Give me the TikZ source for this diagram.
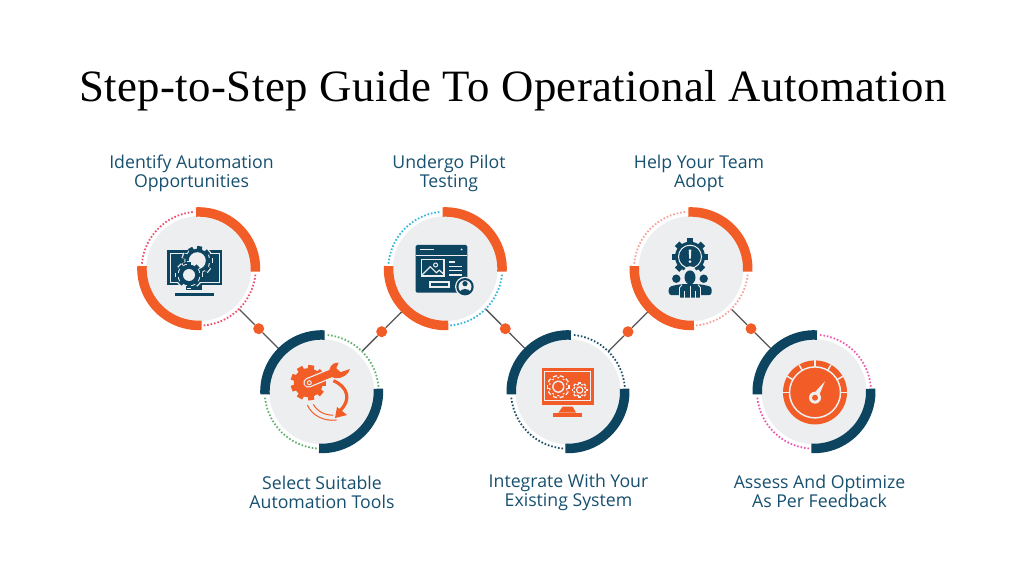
\documentclass[tikz,border=0pt]{standalone}
\usepackage{fontspec}
\setmainfont{Open Sans}
\newfontfamily\titlefont[LetterSpace=1]{Liberation Serif}
\definecolor{rust}{HTML}{F25C27}
\definecolor{navy}{HTML}{0D4460}
\definecolor{paper}{HTML}{EDEEF0}
\definecolor{labelblue}{HTML}{17506F}
\definecolor{wire}{HTML}{555555}
\definecolor{dotred}{HTML}{F0506E}
\definecolor{dotgreen}{HTML}{63B26F}
\definecolor{dotcyan}{HTML}{35B5DC}
\definecolor{dotnavy}{HTML}{1F5068}
\definecolor{dotsalmon}{HTML}{F7A097}
\definecolor{dotpink}{HTML}{EE5AB0}
\tikzset{
  disc/.style={circle, fill=paper, minimum size=105pt, inner sep=0pt},
  joint/.style={circle, fill=rust, minimum size=11pt, inner sep=0pt},
  wireline/.style={draw=wire, line width=1.3pt},
  ringline/.style={line width=9.5pt},
  dotline/.style={line width=1.8pt, dash pattern=on 1.6pt off 1.9pt},
  steplabel/.style={text=labelblue, align=center, font=\fontsize{17.7}{19}\selectfont},
}
% ring parts round a disc: node, ring colour, dot colour, turn
\newcommand{\ringfig}[4]{
  \begin{scope}[shift={(#1.center)}, rotate=#4]
    \draw[ringline, draw=#2] (92.7:56.75) arc (92.7:-3:56.75);
    \draw[ringline, draw=#2] (177.3:56.75) arc (177.3:273:56.75);
    \draw[dotline, draw=#3] (96:57) arc (96:175:57);
    \draw[dotline, draw=#3] (275:57) arc (275:355:57);
  \end{scope}
}
% gear: centre, radius, colour, teeth
\newcommand{\gearfig}[4]{
  \fill[#3] (#1) circle (#2);
  \foreach \a in {1,...,#4}
    \draw[#3, line width=#2*0.42] (#1) ++(\a*360/#4:#2*0.9) -- ++(\a*360/#4:#2*0.32);
}
\begin{document}
\begin{tikzpicture}[x=1pt, y=1pt]
  \path[use as bounding box] (0,0) rectangle (1024,576);

  % Title
  \node[anchor=base, font=\titlefont\fontsize{44.8}{46}\selectfont, text=black] (title) at (513,474.3) {Step-to-Step Guide To Operational Automation};

  % Discs
  \node[disc] (stepa) at (198.7,307.3) {};
  \node[disc] (stepb) at (321.7,184.3) {};
  \node[disc] (stepc) at (445.3,307.3) {};
  \node[disc] (stepd) at (568,184.3) {};
  \node[disc] (stepe) at (691,307.3) {};
  \node[disc] (stepf) at (814,184.3) {};

  % Joints
  \node[joint] (jointa) at (258.7,247.3) {};
  \node[joint] (jointb) at (381.7,244.3) {};
  \node[joint] (jointc) at (505.3,247.3) {};
  \node[joint] (jointd) at (628,244.3) {};
  \node[joint] (jointe) at (751,247.3) {};

  % Connectors
  \draw[wireline, shorten <=4.5pt] (stepa) -- (jointa);
  \draw[wireline, shorten >=8.5pt] (jointa) -- (stepb);
  \draw[wireline, shorten <=4.5pt] (stepb) -- (jointb);
  \draw[wireline, shorten >=8.5pt] (jointb) -- (stepc);
  \draw[wireline, shorten <=4.5pt] (stepc) -- (jointc);
  \draw[wireline, shorten >=8.5pt] (jointc) -- (stepd);
  \draw[wireline, shorten <=4.5pt] (stepd) -- (jointd);
  \draw[wireline, shorten >=8.5pt] (jointd) -- (stepe);
  \draw[wireline, shorten <=4.5pt] (stepe) -- (jointe);
  \draw[wireline, shorten >=8.5pt] (jointe) -- (stepf);

  % Rings
  \ringfig{stepa}{rust}{dotred}{0}
  \ringfig{stepb}{navy}{dotgreen}{90}
  \ringfig{stepc}{rust}{dotcyan}{0}
  \ringfig{stepd}{navy}{dotnavy}{90}
  \ringfig{stepe}{rust}{dotsalmon}{0}
  \ringfig{stepf}{navy}{dotpink}{90}

  % Icon: monitor with gears
  \begin{scope}[shift={(stepa.center)}]
    \fill[navy] (-31.7,-16.6) rectangle (23.3,18.4);
    \draw[paper, line width=0.8pt] (-28.7,-13.6) rectangle (20.3,15.4);
    \fill[navy] (-12.7,-21) rectangle (3.6,-16.6);
    \fill[navy] (-24,-27.6) rectangle (15.3,-24.6);
    \gearfig{-1.4,8}{13}{paper}{9}
    \gearfig{-1.4,8}{12}{navy}{9}
    \fill[paper] (-1.4,8) circle (8.5);
    \gearfig{-9.7,-6.3}{11.5}{paper}{8}
    \gearfig{-9.7,-6.3}{10.5}{navy}{8}
    \fill[paper] (-9.7,-6.3) circle (6);
  \end{scope}

  % Icon: gear with wrench
  \begin{scope}[shift={(stepb.center)}]
    \gearfig{-13.4,9}{14.5}{rust}{9}
    \draw[paper, line width=10pt, line cap=round] (-13.4,9) -- (11,19);
    \draw[rust, line width=7.5pt, line cap=round] (-13.4,9) -- (11,19);
    \fill[rust] (7,15.5) -- (8,23) .. controls (9,27) and (13,29.5) .. (17,29) -- (14.5,23.5) -- (19,19.5) -- (28.3,22.7) .. controls (27,17) and (20,13) .. (14,13.5) -- cycle;
    \draw[paper, line width=1pt] (-12.4,9) circle (2);
    \draw[rust, line width=3.2pt] (11.7,11) .. controls (26,5) and (30,-8) .. (18.3,-19);
    \fill[rust] (15.3,-15.3) -- (25.3,-23.3) -- (13.3,-26.3) -- cycle;
    \draw[rust, line width=1pt] (-14.3,-13.3) .. controls (-10,-24) and (3,-30) .. (15,-28.3);
    \draw[rust, line width=1pt] (-8.3,-12.7) .. controls (-5,-19) and (3,-24) .. (11.7,-23.3);
  \end{scope}

  % Icon: web page with user
  \begin{scope}[shift={(stepc.center)}]
    \fill[navy, rounded corners=1.5pt] (-29.7,-24) rectangle (22,23.7);
    \draw[paper, line width=0.8pt] (-29.7,13.7) -- (22,13.7);
    \draw[paper, line width=1.5pt] (-25.3,19.3) -- (-11.3,19.3);
    \fill[paper] (16.3,19.3) circle (1);
    \draw[paper, line width=1.2pt] (-23.7,-7.3) rectangle (-1.3,9.3);
    \draw[paper, line width=1.2pt] (-23,-6) -- (-15,2) -- (-9,-4) -- (-6,-1.5) -- (-2,-5);
    \draw[paper, line width=1pt] (-9.7,3.7) circle (2);
    \foreach \ypos/\xend in {6.7/9.7, 2.3/16.3, -2/16.3, -6.3/16.3}
      \draw[paper, line width=1.2pt] (3.7,\ypos) -- (\xend,\ypos);
    \draw[paper, line width=1.2pt] (-15.3,-18.3) rectangle (3.7,-13.3);
    \fill[paper] (19.7,-18) circle (10);
    \fill[navy] (19.7,-18) circle (8.7);
    \fill[paper] (19.7,-18) circle (6.5);
    \fill[navy] (19.7,-15) circle (2.6);
    \fill[navy] (14.5,-23) .. controls (16,-19.5) and (23.5,-19.5) .. (25,-23) .. controls (23,-26) and (16.5,-26) .. (14.5,-23) -- cycle;
  \end{scope}

  % Icon: desktop screen with gears
  \begin{scope}[shift={(stepd.center)}]
    \fill[rust] (-26.3,-13.3) rectangle (25.7,23.3);
    \draw[paper, line width=0.9pt] (-23.3,-8.3) rectangle (22.7,20);
    \fill[rust] (-5.3,-15) -- (4.7,-15) -- (8,-21) -- (-9.7,-21) -- cycle;
    \fill[rust] (-15,-25) rectangle (14,-21.7);
    \gearfig{-9.7,5}{9.5}{paper}{10}
    \gearfig{-9.7,5}{8.3}{rust}{10}
    \fill[paper] (-9.7,5) circle (6.2);
    \fill[rust] (-9.7,5) circle (4.8);
    \gearfig{11.7,1.7}{6.5}{paper}{8}
    \gearfig{11.7,1.7}{5.3}{rust}{8}
    \fill[paper] (11.7,1.7) circle (3.8);
    \fill[rust] (11.7,1.7) circle (2.4);
  \end{scope}

  % Icon: team under gear with alert
  \begin{scope}[shift={(stepe.center)}]
    \gearfig{-1,12}{15}{navy}{8}
    \draw[paper, line width=1pt] (-1,12) circle (11.5);
    \fill[paper] (-2.3,19) -- (0.3,19) -- (-0.2,10) -- (-1.8,10) -- cycle;
    \fill[paper] (-1,7) circle (1.5);
    \fill[paper] (-1,-6) ellipse (7 and 8.5);
    \fill[navy] (-1,-8.7) ellipse (5.5 and 7);
    \fill[navy] (-14.7,-10) circle (4.2);
    \fill[navy] (12.7,-10) circle (4.2);
    \fill[navy, rounded corners=3pt] (-22.3,-26.5) -- (-22.3,-18) -- (-11,-15.5) -- (9,-15.5) -- (20.7,-18) -- (20.7,-26.5) -- cycle;
    \fill[navy, rounded corners=1pt] (-11.5,-29) rectangle (9.5,-20);
    \draw[paper, line width=0.9pt] (-11.5,-29) -- (-11.5,-19) -- (-9,-16);
    \draw[paper, line width=0.9pt] (9.5,-29) -- (9.5,-19) -- (7,-16);
    \draw[paper, line width=1pt] (-1,-17) -- (-1,-29);
    \draw[paper, line width=0.7pt] (-6.5,-29) -- (-6.5,-22);
    \draw[paper, line width=0.7pt] (4.5,-29) -- (4.5,-22);
  \end{scope}

  % Icon: speed dial
  \begin{scope}[shift={(stepf.center)}]
    \fill[rust] (1,-0.7) circle (32);
    \draw[paper, line width=1.5pt] (1,-0.7) circle (25.5);
    \foreach \a in {0,30,60,90,120,150,180}
      \draw[paper, line width=1.5pt] (1,-0.7) ++(\a:25.5) -- ++(\a:6.5);
    \fill[paper] (-1.8,-3.5) -- (11,10.5) -- (4.5,-5) -- cycle;
    \fill[paper] (1,-6) circle (6);
    \fill[rust] (1,-6) circle (3);
  \end{scope}

  % Labels
  \node[steplabel] (labela) at (191.5,403) {Identify Automation\\Opportunities};
  \node[steplabel] (labelb) at (322,83.5) {Select Suitable\\Automation Tools};
  \node[steplabel] (labelc) at (449,403) {Undergo Pilot\\Testing};
  \node[steplabel] (labeld) at (568.5,83.5) {Integrate With Your\\Existing System};
  \node[steplabel] (labele) at (699,403) {Help Your Team\\Adopt};
  \node[steplabel] (labelf) at (819.5,84.5) {Assess And Optimize\\As Per Feedback};
\end{tikzpicture}
\end{document}
